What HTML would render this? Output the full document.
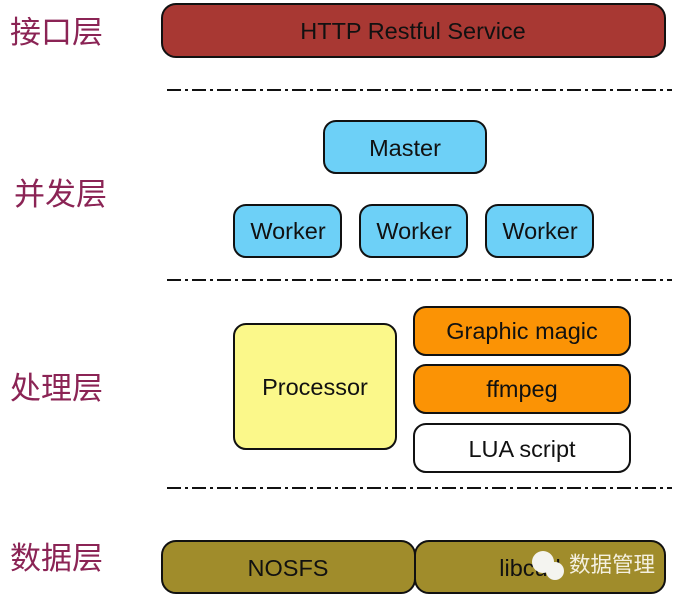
<!DOCTYPE html>
<html><head><meta charset="utf-8"><style>html,body{margin:0;padding:0;background:#fff}</style></head>
<body>
<svg width="680" height="598" xmlns="http://www.w3.org/2000/svg" style="display:block">
<g font-family="'Liberation Sans','Noto Sans CJK SC',sans-serif" fill="#8b2455" font-size="31">
<text x="10" y="43">接口层</text>
<text x="14" y="205">并发层</text>
<text x="10" y="399">处理层</text>
<text x="10" y="569">数据层</text>
</g>
<g stroke="#111" stroke-width="2" stroke-dasharray="14,4,3,4">
<line x1="167" y1="90" x2="672" y2="90"/>
<line x1="167" y1="280" x2="672" y2="280"/>
<line x1="167" y1="488" x2="672" y2="488"/>
</g>
<g stroke="#111" stroke-width="2">
<rect x="162" y="4" width="503" height="53" rx="14" fill="#a83833"/>
<rect x="324" y="121" width="162" height="52" rx="12" fill="#6dd0f7"/>
<rect x="234" y="205" width="107" height="52" rx="12" fill="#6dd0f7"/>
<rect x="360" y="205" width="107" height="52" rx="12" fill="#6dd0f7"/>
<rect x="486" y="205" width="107" height="52" rx="12" fill="#6dd0f7"/>
<rect x="234" y="324" width="162" height="125" rx="12" fill="#fbf88a"/>
<rect x="414" y="307" width="216" height="48" rx="12" fill="#fb9305"/>
<rect x="414" y="365" width="216" height="48" rx="12" fill="#fb9305"/>
<rect x="414" y="424" width="216" height="48" rx="12" fill="#fff"/>
<rect x="162" y="541" width="253" height="52" rx="14" fill="#a08c2b"/>
<rect x="415" y="541" width="250" height="52" rx="14" fill="#a08c2b"/>
</g>
<g font-family="'Liberation Sans',sans-serif" font-size="23.5" fill="#111" text-anchor="middle">
<text x="413" y="39">HTTP Restful Service</text>
<text x="405" y="156">Master</text>
<text x="288" y="239">Worker</text>
<text x="414" y="239">Worker</text>
<text x="540" y="239">Worker</text>
<text x="315" y="395">Processor</text>
<text x="522" y="339">Graphic magic</text>
<text x="522" y="397">ffmpeg</text>
<text x="522" y="457">LUA script</text>
<text x="288" y="576">NOSFS</text>
<text x="530" y="576">libcurl</text>
</g>
<circle cx="543" cy="562" r="11" fill="#f4f4f0"/>
<circle cx="555" cy="571" r="9" fill="#f4f4f0"/>
<text x="569" y="572" font-family="'Noto Sans CJK SC',sans-serif" font-size="21.5" fill="#f4f0e0">数据管理</text>
</svg>
</body></html>
